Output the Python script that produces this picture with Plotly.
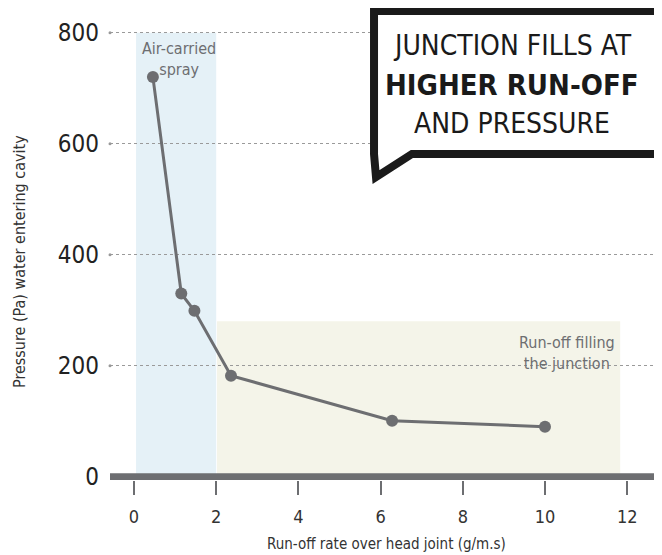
import plotly.graph_objects as go

# ---- data ----
runoff_rate = [0.46, 1.15, 1.47, 2.36, 6.28, 10.0]
pressure = [720, 330, 299, 182, 101, 90]
x_ticks = [0, 2, 4, 6, 8, 10, 12]
y_ticks = [0, 200, 400, 600, 800]
spray_region = [0.05, 2.0, 800]      # x0, x1, top
filling_region = [2.02, 11.83, 280]  # x0, x1, top
spray_label = "Air-carried<br>spray"
filling_label = "Run-off filling<br>the junction"
title_lines = ["JUNCTION FILLS AT", "<b>HIGHER RUN-OFF</b>", "AND PRESSURE"]
x_title = "Run-off rate over head joint (g/m.s)"
y_title = "Pressure (Pa) water entering cavity"

# ---- layout geometry (reference pixel coords; page body adds an 8px offset) ----
OFF = 8
W, H = 662 - OFF, 555 - OFF
PL, PR, PT, PB = 110, 662, 20, 480  # plot area edges in reference pixels
L, T = PL - OFF, PT - OFF
R, B = W - (PR - OFF), H - (PB - OFF)
plot_w = PR - PL
plot_h = PB - PT
x_range = [-0.584, 12.847]
y_range = [-5.95, 822.9]

FONT = "Liberation Sans Narrow, DejaVu Sans Condensed, Roboto Condensed, Roboto, sans-serif"
GREY = "#6d6e71"

def px(p):
    return (p - PL) / plot_w

def py(p):
    return (PB - p) / plot_h

y_per_px = (y_range[1] - y_range[0]) / plot_h
dot_y = y_range[0] - 14 * y_per_px

fig = go.Figure()

fig.add_trace(go.Scatter(
    x=runoff_rate, y=pressure, mode="lines+markers",
    line=dict(color=GREY, width=3),
    marker=dict(color=GREY, size=12),
    hoverinfo="skip", showlegend=False,
))
# dots at end of x ticks
fig.add_trace(go.Scatter(
    x=x_ticks, y=[dot_y] * len(x_ticks), mode="markers",
    marker=dict(color=GREY, size=5), cliponaxis=False,
    hoverinfo="skip", showlegend=False,
))
# dots at the start of gridlines
fig.add_trace(go.Scatter(
    x=[x_range[0]] * (len(y_ticks) - 1), y=y_ticks[1:], mode="markers",
    marker=dict(color="#999999", size=3), cliponaxis=False,
    hoverinfo="skip", showlegend=False,
))

shapes = [
    dict(type="rect", xref="x", yref="y", x0=spray_region[0], x1=spray_region[1],
         y0=0, y1=spray_region[2], fillcolor="#e5f1f7", line=dict(width=0), layer="below"),
    dict(type="rect", xref="x", yref="y", x0=filling_region[0], x1=filling_region[1],
         y0=0, y1=filling_region[2], fillcolor="#f4f4e9", line=dict(width=0), layer="below"),
    dict(type="line", xref="paper", yref="y", x0=0, x1=1, y0=0, y1=0,
         line=dict(color=GREY, width=7), layer="above"),
]
callout_pts = [(374, 11), (658, 11), (658, 154), (412, 154), (376, 177), (374, 154)]
path = "M " + " L ".join(f"{px(a):.4f},{py(b):.4f}" for a, b in callout_pts) + " Z"
shapes.append(dict(type="path", xref="paper", yref="paper", path=path,
                   fillcolor="white", line=dict(color="#1a1a1a", width=8), layer="above"))

annotations = [
    dict(text=spray_label, x=1.1, y=752, xref="x", yref="y", showarrow=False,
         xanchor="center", yanchor="middle",
         font=dict(family=FONT, size=16, color=GREY), align="center"),
    dict(text=filling_label, x=10.54, y=222, xref="x", yref="y", showarrow=False,
         xanchor="center", yanchor="middle",
         font=dict(family=FONT, size=16, color=GREY), align="center"),
    dict(text=x_title, x=0.5, y=py(544), xref="paper", yref="paper", showarrow=False,
         xanchor="center", yanchor="middle",
         font=dict(family=FONT, size=15, color="#333333")),
    dict(text=y_title, x=px(19), y=py(262), xref="paper", yref="paper", showarrow=False,
         xanchor="center", yanchor="middle",
         textangle=-90, font=dict(family=FONT, size=16, color="#333333")),
]
for line, ypix, fs in zip(title_lines, [45, 85, 123], [28, 29, 28]):
    annotations.append(dict(text=line, x=px(512), y=py(ypix), xref="paper", yref="paper",
                            xanchor="center", yanchor="middle",
                            showarrow=False, font=dict(family=FONT, size=fs, color="#1a1a1a")))

fig.update_layout(
    width=W, height=H,
    margin=dict(l=L, r=R, t=T, b=B, autoexpand=False),
    paper_bgcolor="white", plot_bgcolor="white",
    shapes=shapes, annotations=annotations,
    font=dict(family=FONT),
    xaxis=dict(range=x_range, tickvals=x_ticks, showgrid=False, zeroline=False,
               showline=False, ticks="outside", ticklen=14, tickwidth=1.5, tickcolor=GREY,
               ticklabelstandoff=6,
               tickfont=dict(family=FONT, size=18, color="#333333"), fixedrange=True),
    yaxis=dict(range=y_range, tickvals=y_ticks, showgrid=True, griddash="dot",
               gridcolor="#9a9a9a", gridwidth=1, zeroline=False, showline=False,
               ticks="", ticklabelstandoff=10,
               tickfont=dict(family=FONT, size=24, color="#222222"), fixedrange=True),
)

fig.write_html("out.html")
